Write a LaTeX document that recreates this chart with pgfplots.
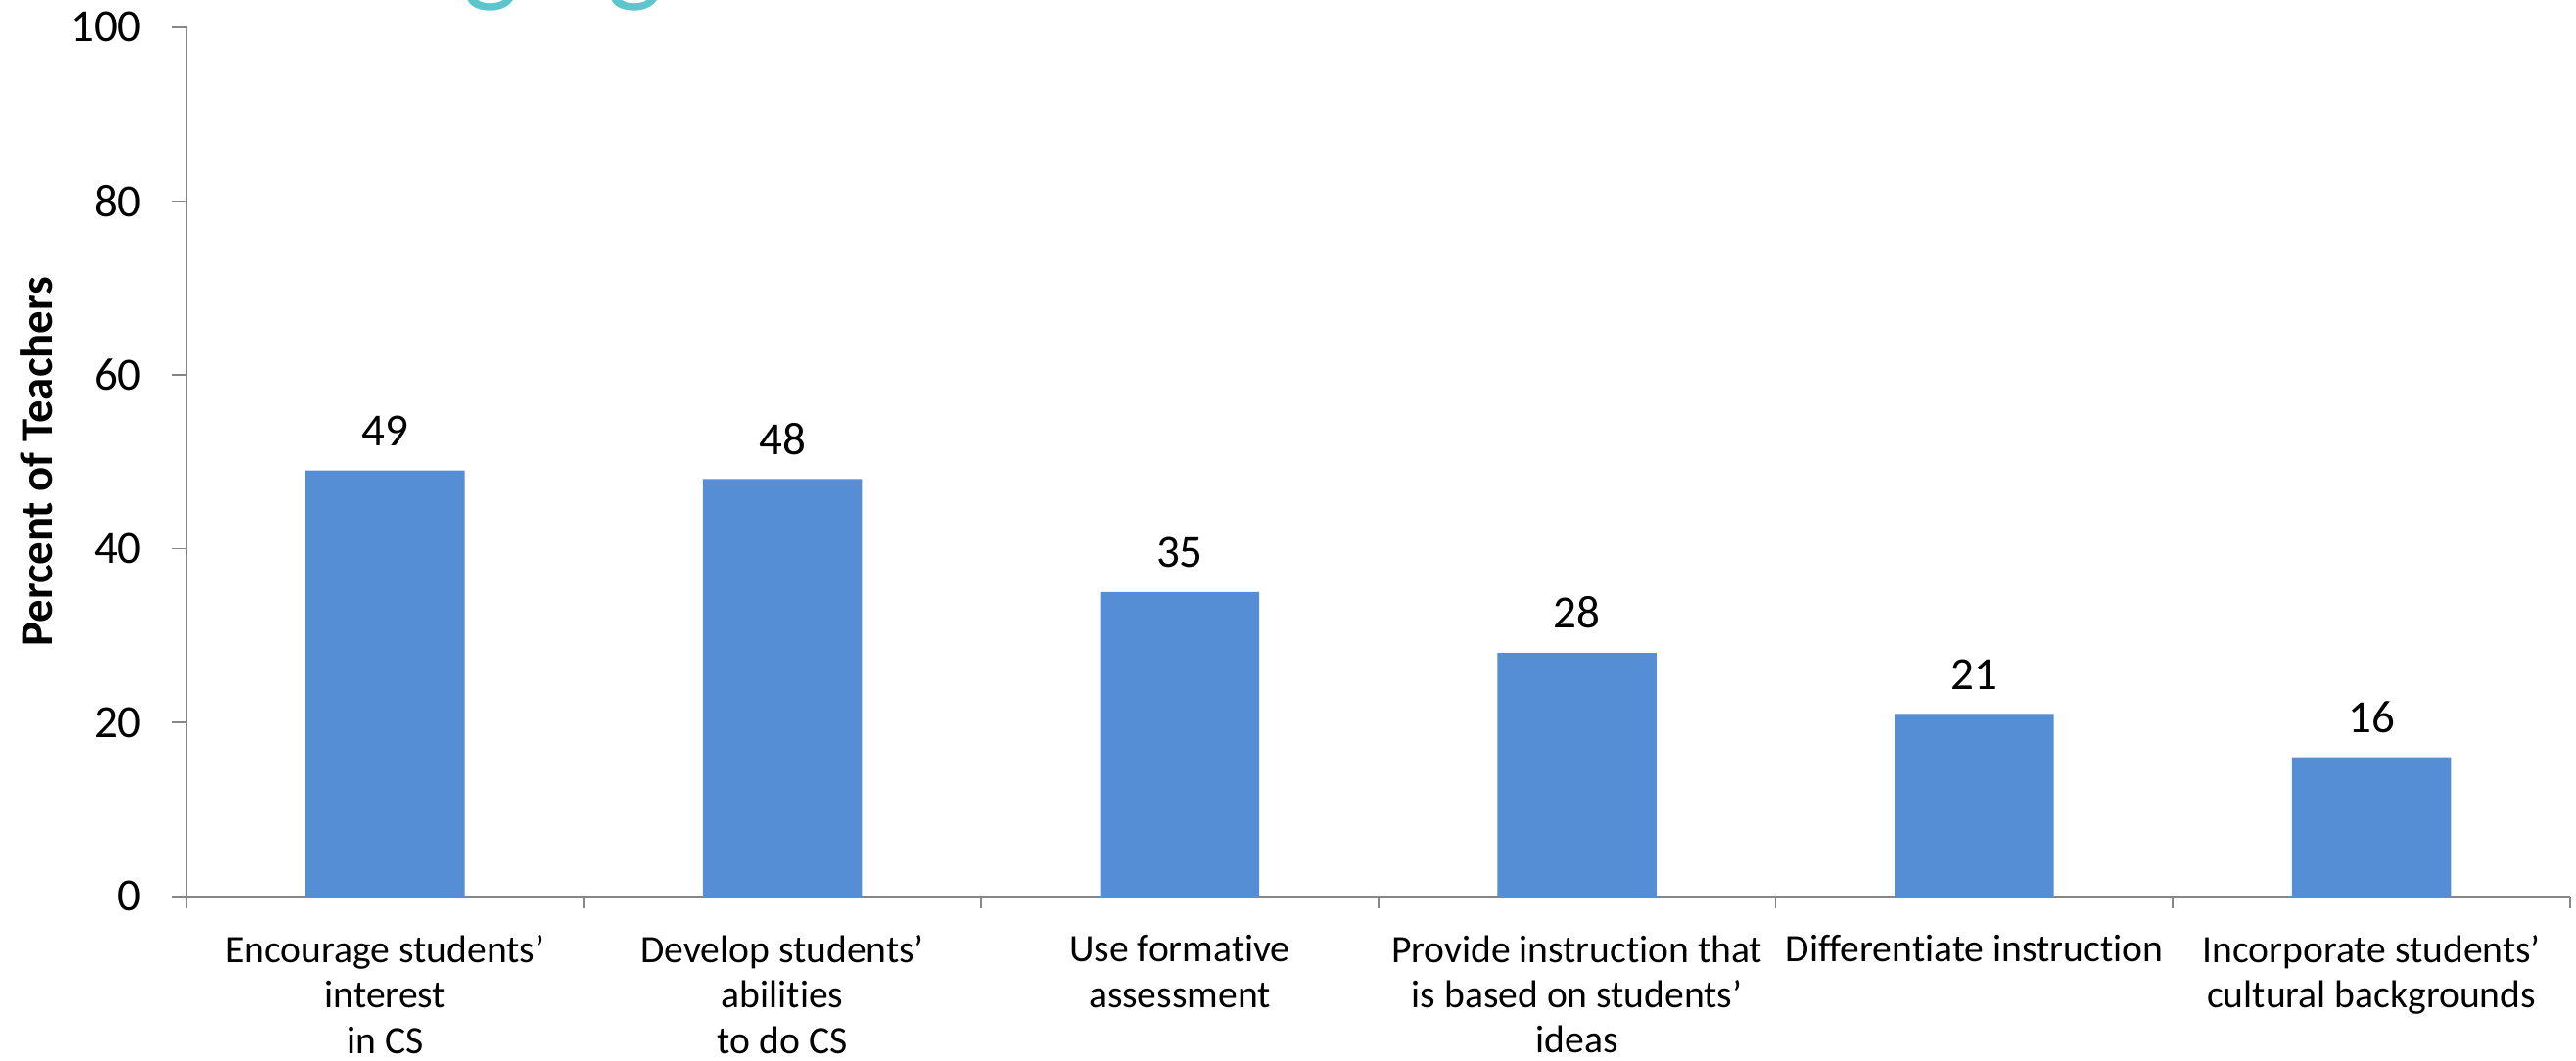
\documentclass[border=0pt]{standalone}
\usepackage{pgfplots}
\pgfplotsset{compat=1.18}
\usepackage{fontspec}
\setmainfont[Ligatures=NoCommon]{Carlito}
\definecolor{barblue}{RGB}{85,142,213}
\definecolor{axisgray}{RGB}{134,134,134}
\definecolor{titlecyan}{RGB}{91,198,204}
\begin{document}
\begin{tikzpicture}
\begin{axis}[
  name=ax,
  scale only axis,
  width=608.6pt, height=222pt,
  ybar, bar width=40.6pt,
  xmin=-0.5, xmax=5.5, ymin=0, ymax=100,
  axis x line=bottom, axis y line=left,
  axis line style={-, draw=axisgray, line width=0.4pt},
  tick style={draw=axisgray, line width=0.4pt},
  tick align=outside,
  xtick={0,1,2,3,4,5},
  xticklabels={{Encourage students’\\interest\\in CS},{Develop students’\\abilities\\to do CS},{Use formative\\assessment},{Provide instruction that\\is based on students’\\ideas},{Differentiate instruction},{Incorporate students’\\cultural backgrounds}},
  major x tick style={draw=none},
  minor xtick={-0.5,0.5,1.5,2.5,3.5,4.5,5.5},
  minor tick length=3pt, major tick length=3.75pt,
  ytick={0,20,40,60,80,100},
  /pgf/number format/assume math mode=true,
  yticklabel style={font=\fontsize{11.75}{14}\selectfont, inner sep=0pt, xshift=-7.65pt},
  xticklabel style={font=\fontsize{9.9}{11.6}\selectfont, align=center, inner sep=0pt, anchor=north, yshift=-6pt},
  ylabel={Percent of Teachers},
  ylabel style={font=\bfseries\fontsize{11.7}{14}\selectfont, at={(axis description cs:-0.0631,0.5)}, anchor=center},
  nodes near coords,
  nodes near coords style={font=\fontsize{11.75}{14}\selectfont, inner sep=0pt, yshift=6pt, text=black},
]
\addplot[fill=barblue, draw=none] coordinates {(0,49) (1,48) (2,35) (3,28) (4,21) (5,16)};
\end{axis}
\begin{scope}
\clip ([xshift=-47.625pt,yshift=-41.825pt]ax.south west) rectangle ([xshift=1.5pt,yshift=6.925pt]ax.north east);
\node[anchor=base west, inner sep=0pt, text=titlecyan, font=\fontsize{30}{36}\selectfont] at ([xshift=70.5pt,yshift=9.2pt]ax.north west) {ging};
\end{scope}
\pgfresetboundingbox
\path[use as bounding box] ([xshift=-47.625pt,yshift=-41.825pt]ax.south west) rectangle ([xshift=1.5pt,yshift=6.925pt]ax.north east);
\end{tikzpicture}
\end{document}
